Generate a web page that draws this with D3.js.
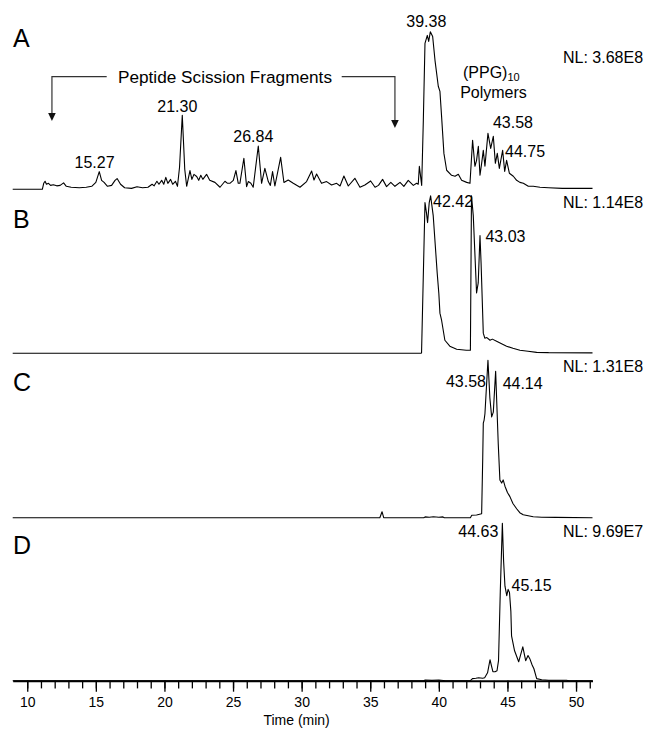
<!DOCTYPE html>
<html><head><meta charset="utf-8">
<script src="https://cdn.jsdelivr.net/npm/d3@7"></script>
<style>
body{margin:0;background:#fff}
svg{display:block}
text{font-family:"Liberation Sans",Arial,Helvetica,sans-serif;fill:#000}
</style>
</head><body>
<svg id="chart" width="648" height="729"></svg>
<script>
// ---------------- DATA ----------------
const panelNames = ["A", "B", "C", "D"];
const normLevels = ["NL: 3.68E8", "NL: 1.14E8", "NL: 1.31E8", "NL: 9.69E7"];
const xAxisTitle = "Time (min)";
const majorTicks = [10, 15, 20, 25, 30, 35, 40, 45, 50];
const minorTicks = d3.range(10, 52);
const timeDomain = [8.94, 51.2];

// relative abundance (%) vs retention time (min)
const traceA = [
 [8.94,0],[11.1,0],[11.2,3.8],[11.3,5.1],[11.4,3.2],[11.55,3.8],[11.7,2.5],[11.9,2.9],[12.15,2.2],[12.4,2.5],
 [12.65,4.1],[12.85,1.9],[13.2,1.3],[13.8,1.0],[14.3,1.3],[14.7,1.9],[15.0,4.4],[15.25,11.2],[15.42,5.7],[15.6,4.4],
 [15.85,1.9],[16.15,2.5],[16.4,5.7],[16.55,6.8],[16.8,3.2],[17.1,1.0],[17.6,0.6],[18.0,1.6],[18.4,1.0],[18.8,1.3],
 [19.1,3.2],[19.25,2.2],[19.45,5.1],[19.6,3.2],[19.8,5.7],[19.95,3.2],[20.1,7.6],[20.25,3.8],[20.45,6.3],[20.6,3.2],
 [20.8,5.1],[20.95,1.9],[21.1,14],[21.3,47],[21.48,12.7],[21.62,1.9],[21.86,11.9],[22.0,6.3],[22.15,9.5],[22.35,8.1],
 [22.5,5.7],[22.65,8.9],[22.8,6.3],[23.07,9.5],[23.3,5.7],[23.68,4.4],[24.05,1.3],[24.41,5.1],[24.6,3.8],[24.77,3.8],
 [25.02,5.7],[25.21,11.9],[25.38,3.8],[25.5,3.8],[25.79,19.7],[25.99,1.7],[26.11,4.9],[26.3,3.8],[26.47,1.3],[26.84,27.5],
 [27.08,3.8],[27.32,13.3],[27.57,4.9],[27.72,2.5],[27.88,11.2],[28.05,2.1],[28.47,20.3],[28.71,4.3],[29.02,5.9],[29.39,3.8],
 [29.88,1.3],[30.36,4.9],[30.73,11.6],[30.9,5.9],[31.09,9.7],[31.45,3.8],[31.82,4.9],[32.18,2.7],[32.55,3.8],[32.8,2.1],
 [33.08,8.4],[33.4,2.1],[33.88,7.0],[34.25,1.3],[34.61,2.7],[35.03,5.3],[35.35,1.3],[35.6,2.5],[35.9,6.3],[36.19,1.7],
 [36.5,4.4],[36.8,1.9],[37.17,4.4],[37.45,1.9],[37.77,5.7],[38.14,2.5],[38.38,3.8],[38.5,3.2],[38.58,14.6],[38.75,2.5],
 [38.87,43.8],[38.99,92.6],[39.16,97.7],[39.26,93.9],[39.38,100],[39.55,97],[39.72,81.9],[39.96,65.4],[40.08,62.2],[40.2,46.3],
 [40.37,22.8],[40.57,12.1],[40.93,8.9],[41.18,8.3],[41.42,9.5],[41.66,5.7],[42.03,4.4],[42.27,3.8],[42.46,31.1],[42.63,14.6],
 [42.75,18.4],[42.88,27.3],[43.0,8.9],[43.12,16.5],[43.24,24.7],[43.36,14.6],[43.58,35.5],[43.78,26],[43.97,33.6],[44.12,16.5],
 [44.26,22.8],[44.41,13.3],[44.65,24.7],[44.8,11.4],[44.94,18.4],[45.14,10.2],[45.43,8.3],[45.67,5.7],[45.91,4.4],[46.16,3.8],
 [46.52,1.9],[46.88,1.9],[47.37,1.3],[48.0,1.0],[49.0,0.6],[50.0,0.6],[51.2,0.6]
];
const traceB = [
 [8.94,0],[38.7,0],[38.74,0.3],[38.99,95.7],[39.1,89],[39.18,83],[39.3,95.7],[39.4,100],[39.59,87.4],[39.88,51],
 [40.0,38],[40.08,25.5],[40.2,21],[40.44,8.3],[40.8,4.5],[41.3,2.6],[42.0,1.9],[42.3,1.9],[42.38,100],[42.51,87.4],
 [42.75,38.3],[42.87,44.7],[43.0,74.7],[43.08,57],[43.24,12.8],[43.35,9.6],[43.5,10],[43.73,8.3],[43.9,9],[44.21,7.7],
 [44.5,6.4],[44.94,4.5],[45.4,3.2],[45.91,1.9],[46.5,1.3],[47.13,0.6],[48.0,0.4],[51.2,0.3]
];
const traceC = [
 [8.94,0],[35.7,0],[35.86,3.8],[35.98,0],[38.9,0],[39.0,0.5],[39.3,0.3],[39.6,0.6],[40.0,0.3],[40.3,0.5],
 [40.4,0],[42.3,0],[42.4,1.6],[42.75,1.7],[43.12,2.5],[43.2,38],[43.24,60],[43.3,62],[43.36,66],[43.58,100],
 [43.72,76],[43.85,64],[43.97,67],[44.14,93],[44.33,47],[44.45,24],[44.58,22],[44.69,24],[44.82,20],[45.0,16],
 [45.18,13.4],[45.4,9],[45.67,5.7],[45.9,3.2],[46.15,1.9],[46.88,0.6],[47.5,0.3],[48.5,0.2],[51.2,0]
];
const traceD = [
 [8.94,0],[38.9,0],[39.0,0.4],[39.5,0.2],[40.0,0.4],[40.5,0],[42.3,0],[42.45,1.3],[42.7,1.6],[42.9,1.9],
 [43.2,1.6],[43.34,1.9],[43.55,5],[43.73,13.3],[43.85,9],[43.94,5.7],[44.1,5.7],[44.24,6.3],[44.35,12.7],[44.48,57],
 [44.63,100],[44.72,76],[44.82,60],[44.95,54],[45.05,58],[45.15,56],[45.25,44],[45.3,28.5],[45.52,19],[45.82,12],
 [46.12,21.5],[46.33,12.7],[46.5,16],[46.63,14],[46.8,10],[46.93,7.6],[47.13,1.3],[47.5,0.6],[48.0,0.3],[49.3,0.3],
 [49.5,0],[51.2,0]
];
const traces = [traceA, traceB, traceC, traceD];

// peak annotations per panel (retention time labels)
const peakLabels = [
 ["15.27", "21.30", "26.84", "39.38", "43.58", "44.75"],
 ["42.42", "43.03"],
 ["43.58", "44.14"],
 ["44.63", "45.15"]
];
const bracketText = "Peptide Scission Fragments";
const polymerText = ["(PPG)", "10", "Polymers"];

// ---------------- LAYOUT ----------------
const left = 12.7, right = 592.5;
const baselines = [189.3, 353.3, 517.7, 680.7];
const panelH = 157.5;
const font = '"Liberation Sans",Arial,sans-serif';

// label placement: [anchor, dx, baselineY]
const labelLayout = [
 [["middle",-5,168.3],["middle",-5,111.7],["middle",-5,141.7],["middle",-4,26.7],["start",5,128.3],["start",1,156.7]],
 [["end",1,207],["start",5,242]],
 [["end",-2,387],["start",7,389]],
 [["end",-4,537],["start",2,591]]
];
const letterY = [46.5, 228, 391, 554];
const nlY = [63, 208, 372, 537];

const svg = d3.select("#chart");
const x = d3.scaleLinear().domain(timeDomain).range([left, right]);

const line = (ys) => d3.line().x(d => x(d[0])).y(d => ys(d[1]));

traces.forEach((tr, i) => {
  const ys = d3.scaleLinear().domain([0, 100]).range([baselines[i], baselines[i] - panelH]);
  svg.append("path").datum(tr)
    .attr("d", line(ys))
    .attr("fill", "none").attr("stroke", "#000").attr("stroke-width", 1.1)
    .attr("stroke-linejoin", "round");

  svg.append("text").attr("x", 13).attr("y", letterY[i])
    .attr("font-size", 25).text(panelNames[i]);
  svg.append("text").attr("x", 563).attr("y", nlY[i])
    .attr("font-size", 16).text(normLevels[i]);

  peakLabels[i].forEach((lab, j) => {
    const [anchor, dx, yy] = labelLayout[i][j];
    svg.append("text").attr("x", x(+lab) + dx).attr("y", yy)
      .attr("text-anchor", anchor).attr("font-size", 16).text(lab);
  });
});

// bracket "Peptide Scission Fragments"
const bracketY = 76.7;
const arrowL = { x: x(11.8), tip: 121 };
const arrowR = { x: x(36.8), tip: 128 };
const brk = svg.append("g").attr("stroke", "#333").attr("stroke-width", 1.2).attr("fill", "none");
brk.append("path").attr("d", `M${arrowL.x},${arrowL.tip - 7} V${bracketY} H${106.7}`);
brk.append("path").attr("d", `M${341.7},${bracketY} H${arrowR.x} V${arrowR.tip - 7}`);
[arrowL, arrowR].forEach(a => {
  svg.append("path").attr("d", `M${a.x - 3.8},${a.tip - 8} L${a.x + 3.8},${a.tip - 8} L${a.x},${a.tip} Z`)
    .attr("fill", "#111");
});
svg.append("text").attr("x", 118).attr("y", 83).attr("font-size", 17.2).text(bracketText);

// (PPG)10 Polymers
const ppg = svg.append("text").attr("x", 463).attr("y", 77.5).attr("font-size", 16);
ppg.append("tspan").text(polymerText[0]);
ppg.append("tspan").attr("font-size", 11).attr("dy", 3).text(polymerText[1]);
svg.append("text").attr("x", 493.5).attr("y", 97.5).attr("text-anchor", "middle")
  .attr("font-size", 16).text(polymerText[2]);

// x axis
const gAx = svg.append("g").attr("transform", `translate(0,${baselines[3]})`);
gAx.call(d3.axisBottom(x).tickValues(minorTicks).tickSize(7.7).tickFormat("").tickSizeOuter(0));
const gMaj = gAx.append("g").call(d3.axisBottom(x).tickValues(majorTicks).tickSize(11).tickPadding(5).tickSizeOuter(0));
gMaj.select(".domain").remove();
gAx.select(".domain").attr("stroke-width", 2);
gAx.selectAll(".tick line").attr("stroke-width", 1.3);
gAx.selectAll(".tick text").attr("font-size", 14).attr("font-family", font).attr("fill", "#000");
svg.append("text").attr("x", (left + right) / 2 - 6).attr("y", 725).attr("text-anchor", "middle")
  .attr("font-size", 14).text(xAxisTitle);
</script>
</body></html>
